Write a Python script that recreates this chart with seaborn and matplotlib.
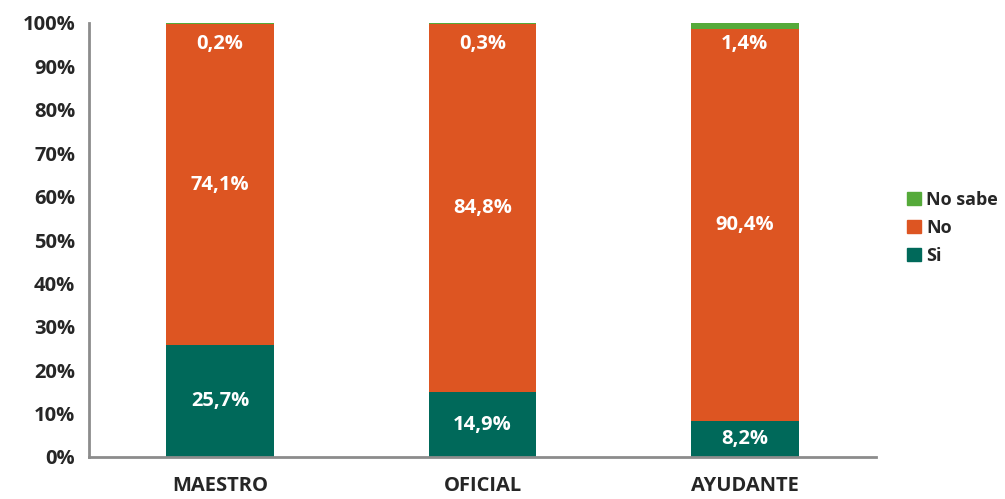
import numpy as np
import pandas as pd
import matplotlib
matplotlib.use("Agg")
import matplotlib.pyplot as plt
from matplotlib.patches import Patch
import seaborn as sns

# data
categorias = ["MAESTRO", "OFICIAL", "AYUDANTE"]
si = [25.7, 14.9, 8.2]
no = [74.1, 84.8, 90.4]
no_sabe = [0.2, 0.3, 1.4]

c_si = "#00695A"
c_no = "#DD5522"
c_ns = "#55AA3A"

sns.set_style("white")
plt.rcParams["font.family"] = ["Open Sans", "DejaVu Sans"]
plt.rcParams["font.weight"] = "bold"
fs = 14.5

df = pd.DataFrame({"cat": categorias, "si": si, "no": no, "ns": no_sabe})
df["si_no"] = df["si"] + df["no"]
df["total"] = df["si_no"] + df["ns"]

fig = plt.figure(figsize=(10.05, 4.99), dpi=100)
ax = fig.add_axes([89 / 1005, 1 - 457 / 499, (876 - 89) / 1005, (457 - 23) / 499])

# stacked bars: draw cumulative heights from the top down
w = 0.41
sns.barplot(data=df, x="cat", y="total", color=c_ns, width=w, saturation=1, ax=ax)
sns.barplot(data=df, x="cat", y="si_no", color=c_no, width=w, saturation=1, ax=ax)
sns.barplot(data=df, x="cat", y="si", color=c_si, width=w, saturation=1, ax=ax)
for p in ax.patches:
    p.set_clip_on(False)
    p.set_linewidth(0)

def fmt(v):
    return f"{v:.1f}%".replace(".", ",")

for i, r in df.iterrows():
    kw = dict(ha="center", va="center", color="white", fontsize=fs, fontweight="bold")
    ax.text(i, r["si"] / 2, fmt(r["si"]), **kw)
    ax.text(i, r["si"] + r["no"] / 2, fmt(r["no"]), **kw)
    ax.text(i, 95.2, fmt(r["ns"]), **kw)

ax.set_ylim(0, 100)
ax.set_xlim(-0.5, 2.5)
ax.set_yticks(np.arange(0, 101, 10))
ax.set_yticklabels([f"{t}%" for t in range(0, 101, 10)], fontsize=fs, fontweight="bold")
ax.set_xticks(range(3))
ax.set_xticklabels(categorias, fontsize=fs, fontweight="bold")
ax.set_xticks([-0.5, 0.5, 1.5, 2.5], minor=True)
ax.tick_params(axis="x", which="major", length=0, pad=14)
ax.tick_params(axis="x", which="minor", length=6, width=2, color="#8c8c8c", direction="out")
ax.tick_params(axis="y", length=6, width=2, color="#8c8c8c", direction="out", pad=4)
ax.set_xlabel("")
ax.set_ylabel("")

for s in ["top", "right"]:
    ax.spines[s].set_visible(False)
for s in ["left", "bottom"]:
    ax.spines[s].set_color("#8c8c8c")
    ax.spines[s].set_linewidth(2)

handles = [Patch(color=c_ns, label="No sabe"), Patch(color=c_no, label="No"), Patch(color=c_si, label="Si")]
leg = fig.legend(handles=handles, loc="center left", bbox_to_anchor=(900 / 1005, 1 - 228 / 499),
                 frameon=False, fontsize=13, handlelength=0.75, handleheight=0.75,
                 handletextpad=0.3, labelspacing=0.55, borderaxespad=0)
for t in leg.get_texts():
    t.set_fontweight("bold")

fig.savefig("out.png", dpi=100)
